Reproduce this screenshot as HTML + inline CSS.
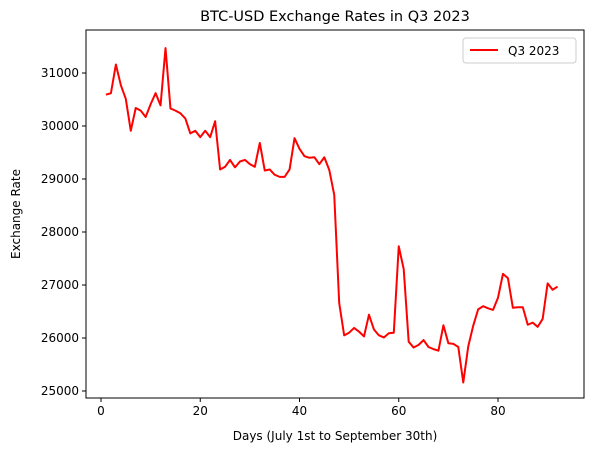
<!DOCTYPE html>
<html><head><meta charset="utf-8"><style>
body{margin:0;background:#fff;}
svg{display:block;font-family:"DejaVu Sans","Liberation Sans",sans-serif;}
</style></head><body>
<svg id="chart" width="589" height="453"></svg>
<script>
const days = Array.from({length:92},(_,i)=>i+1);
const rates = [30590,30620,31160,30770,30510,29910,30340,30290,30170,30410,30620,30390,31470,30330,30290,30240,30140,29860,29910,29790,29910,29790,30090,29180,29230,29360,29220,29330,29360,29280,29230,29680,29160,29180,29080,29040,29040,29180,29770,29570,29430,29400,29410,29280,29410,29170,28700,26660,26050,26100,26190,26120,26030,26440,26160,26050,26010,26090,26100,27730,27300,25930,25820,25870,25960,25830,25790,25760,26240,25900,25890,25830,25160,25840,26230,26540,26600,26560,26530,26760,27210,27130,26570,26580,26580,26250,26290,26210,26360,27030,26910,26970];
const xTicks = [0,20,40,60,80];
const yTicks = [25000,26000,27000,28000,29000,30000,31000];
const L=86,R=584,T=30,B=398;
const xs = d => 101 + d*4.9625;
const ys = v => 391 - (v-25000)*0.053;
const svg = document.getElementById('chart');
const NS='http://www.w3.org/2000/svg';
function mk(tag,attrs,parent){const e=document.createElementNS(NS,tag);for(const k in attrs)e.setAttribute(k,attrs[k]);(parent||svg).appendChild(e);return e;}
const title = mk('text',{x:(L+R)/2,y:21,'text-anchor':'middle','font-size':14.5});
title.textContent='BTC-USD Exchange Rates in Q3 2023';


const line = mk('polyline',{points:days.map((d,i)=>xs(d)+','+ys(rates[i])).join(' '),fill:'none',stroke:'#ff0000','stroke-width':2,'stroke-linejoin':'round'});


const frame = mk('rect',{x:L,y:T,width:R-L,height:B-T,fill:'none',stroke:'#000','stroke-width':1});


xTicks.forEach(t=>{
  mk('line',{x1:xs(t),x2:xs(t),y1:B,y2:B+4,stroke:'#000'});
  const tx=mk('text',{x:xs(t),y:B+17,'text-anchor':'middle','font-size':12});
  tx.textContent=t;
  
  
});
yTicks.forEach(t=>{
  mk('line',{x1:L-4,x2:L,y1:ys(t),y2:ys(t),stroke:'#000'});
  const tx=mk('text',{x:L-7,y:ys(t)+4,'text-anchor':'end','font-size':12});
  tx.textContent=t;
  
  
});
const xl=mk('text',{x:(L+R)/2,y:440,'text-anchor':'middle','font-size':12});
xl.textContent='Days (July 1st to September 30th)';


const yl=mk('text',{x:20,y:(T+B)/2,'text-anchor':'middle','font-size':12,transform:'rotate(-90 20 '+((T+B)/2)+')'});
yl.textContent='Exchange Rate';


const lg=mk('g',{});


mk('rect',{x:463,y:38,width:113,height:25,rx:3,fill:'#fff',stroke:'#ccc'},lg);
mk('line',{x1:470,x2:498,y1:50,y2:50,stroke:'#ff0000','stroke-width':2},lg);
const lt=mk('text',{x:508,y:55,'font-size':12},lg);
lt.textContent='Q3 2023';


</script>
</body></html>
